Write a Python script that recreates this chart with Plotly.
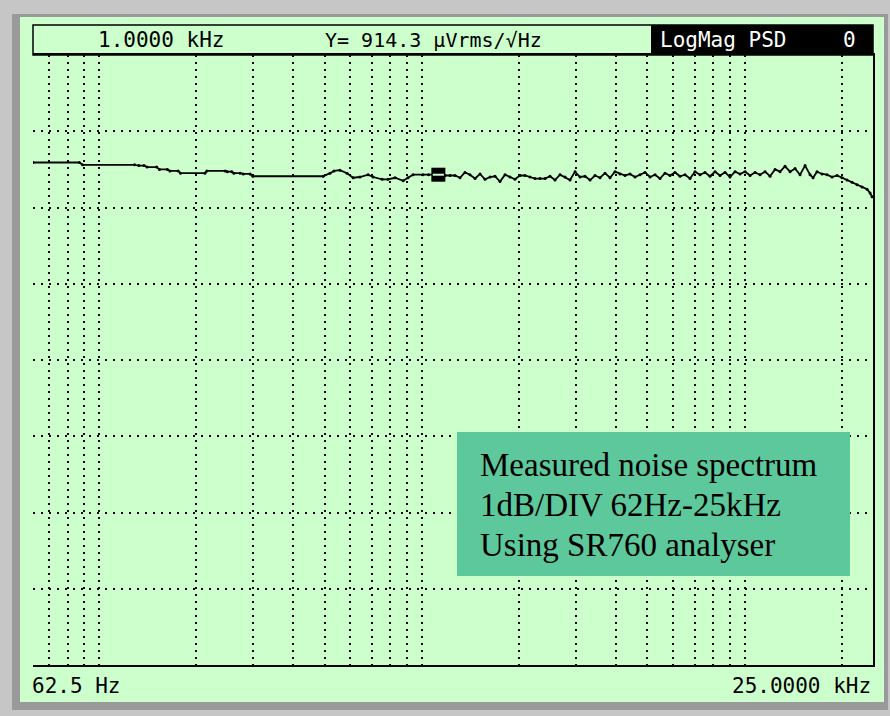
import math
import plotly.graph_objects as go

# ---------------- data ----------------
freq_hz = [
    62.5, 87, 89, 129, 133, 138, 141, 151, 154, 163, 166, 176, 179, 213, 216, 246,
    250, 258, 262, 274, 280, 294, 300, 495, 520, 535, 558, 587, 613, 644, 682, 707,
    754, 786, 827, 876, 907, 940, 1009, 1050, 1126, 1181, 1224,
    1268, 1314, 1362, 1411, 1463, 1516, 1571, 1628, 1687, 1748, 1812, 1877, 1945,
    2016, 2089, 2165, 2244, 2325, 2410, 2497, 2588, 2682, 2780, 2880, 2985, 3093,
    3205, 3322, 3442, 3567, 3697, 3831, 3970, 4114, 4264, 4418, 4579, 4745, 4917,
    5096, 5281, 5472, 5671, 5877, 6090, 6311, 6540, 6778, 7024, 7279, 7543, 7817,
    8101, 8395, 8700, 9016, 9346, 9685, 10037, 10402, 10779, 11170, 11576, 11996,
    12432, 12882, 13350, 13835, 14337, 14859, 15398, 15958, 16300, 16770, 17380,
    18010, 18670, 19350, 20050, 20780, 21530, 22310, 23120, 23960, 24480, 24830,
]
level_db = [
    -1.41, -1.41, -1.44, -1.44, -1.45, -1.45, -1.47, -1.47, -1.50, -1.50, -1.52, -1.52,
    -1.55, -1.55, -1.52, -1.52, -1.53, -1.53, -1.55, -1.55, -1.56, -1.56, -1.59, -1.59,
    -1.55, -1.52, -1.51, -1.55, -1.61, -1.60, -1.57, -1.60, -1.63, -1.63, -1.61, -1.65,
    -1.61, -1.57, -1.57, -1.57, -1.57, -1.58, -1.58,
    -1.58, -1.61, -1.54, -1.57, -1.62, -1.56, -1.63, -1.60, -1.59, -1.66, -1.57, -1.60,
    -1.63, -1.58, -1.58, -1.60, -1.62, -1.62, -1.62, -1.59, -1.64, -1.57, -1.60, -1.64,
    -1.53, -1.60, -1.59, -1.64, -1.58, -1.61, -1.55, -1.61, -1.53, -1.56, -1.58, -1.56,
    -1.60, -1.57, -1.54, -1.60, -1.57, -1.62, -1.55, -1.58, -1.54, -1.59, -1.57, -1.62,
    -1.53, -1.57, -1.54, -1.59, -1.53, -1.58, -1.54, -1.60, -1.53, -1.56, -1.53, -1.58,
    -1.54, -1.57, -1.53, -1.59, -1.50, -1.53, -1.46, -1.53, -1.49, -1.57, -1.45, -1.57,
    -1.61, -1.53, -1.56, -1.57, -1.60, -1.58, -1.61, -1.64, -1.67, -1.70, -1.73, -1.76,
    -1.81, -1.86,
]

marker_freq = [1126]
marker_level = [-1.57]
cursor_left_hz = 1000
cursor_right_hz = 1268

f_start_hz = 62.5
f_stop_hz = 25000
grid_freqs = [70, 80, 90, 100, 200, 300, 400, 500, 600, 700, 800, 900, 1000,
              2000, 3000, 4000, 5000, 6000, 7000, 8000, 9000, 10000, 20000]
grid_levels = [-7, -6, -5, -4, -3, -2, -1]
y_range = [-8, 0]

header_freq = "1.0000 kHz"
header_y = "Y= 914.3 µVrms/√Hz"
header_mode = "LogMag PSD"
header_trace = "0"
label_start = "62.5 Hz"
label_stop = "25.0000 kHz"
note_lines = ["Measured noise spectrum", "1dB/DIV 62Hz-25kHz", "Using SR760 analyser"]

# ---------------- layout helpers (pixel -> paper) ----------------
W, H = 890, 716
L, R, T, B = 33, 873, 55, 665


def px(x):
    return (x - L) / (R - L)


def py(y):
    return (B - y) / (B - T)


GREEN = "#ccffcc"
LCD_FONT = "DejaVu Sans Mono"

fig = go.Figure()
fig.add_trace(go.Scatter(x=freq_hz, y=level_db, mode="lines+markers",
                         line=dict(color="black", width=1.8),
                         marker=dict(size=3, color="black"), hoverinfo="skip"))
fig.add_trace(go.Scatter(x=marker_freq, y=marker_level, mode="markers",
                         marker=dict(symbol="square", size=14, color="black"), hoverinfo="skip"))
fig.add_trace(go.Scatter(x=marker_freq, y=marker_level, mode="markers",
                         marker=dict(symbol="line-ew", size=8, line=dict(color=GREEN, width=2)),
                         hoverinfo="skip"))

shapes = []
# soft shadow of the screen panel
shapes.append(dict(type="rect", xref="paper", yref="paper", x0=px(12), x1=px(888), y0=py(710), y1=py(14),
                   fillcolor="#9a9a9a", line=dict(width=0), layer="below"))
# green screen panel
shapes.append(dict(type="rect", xref="paper", yref="paper", x0=px(20), x1=px(884), y0=py(702), y1=py(17),
                   fillcolor=GREEN, line=dict(width=0), layer="below"))
# header frame
shapes.append(dict(type="rect", xref="paper", yref="paper", x0=px(33), x1=px(873), y0=py(55), y1=py(25),
                   fillcolor="rgba(0,0,0,0)", line=dict(color="black", width=1.5), layer="above"))
# black status box
shapes.append(dict(type="rect", xref="paper", yref="paper", x0=px(651), x1=px(873), y0=py(54), y1=py(25),
                   fillcolor="black", line=dict(width=0), layer="above"))
# cursor lines
shapes.append(dict(type="line", xref="x", yref="paper", x0=math.log10(cursor_left_hz),
                   x1=math.log10(cursor_left_hz), y0=0, y1=1,
                   line=dict(color="black", width=1.5, dash="10px,5px"), layer="above"))
shapes.append(dict(type="line", xref="x", yref="paper", x0=math.log10(cursor_right_hz),
                   x1=math.log10(cursor_right_hz), y0=0, y1=1,
                   line=dict(color="black", width=1.5, dash="24px,7px"), layer="above"))
# note box
shapes.append(dict(type="rect", xref="paper", yref="paper", x0=px(457), x1=px(850), y0=py(576), y1=py(432),
                   fillcolor="#5dc89b", line=dict(width=0), layer="above"))

annotations = []
hdr_y = py(40)
annotations.append(dict(text=header_freq, xref="paper", yref="paper", x=px(161), y=hdr_y,
                        xanchor="center", yanchor="middle", showarrow=False,
                        font=dict(family=LCD_FONT, size=21, color="black")))
annotations.append(dict(text=header_y, xref="paper", yref="paper", x=px(433), y=hdr_y,
                        xanchor="center", yanchor="middle", showarrow=False,
                        font=dict(family=LCD_FONT, size=20, color="black")))
annotations.append(dict(text=header_mode, xref="paper", yref="paper", x=px(723), y=hdr_y,
                        xanchor="center", yanchor="middle", showarrow=False,
                        font=dict(family=LCD_FONT, size=21, color="white")))
annotations.append(dict(text=header_trace, xref="paper", yref="paper", x=px(849), y=hdr_y,
                        xanchor="center", yanchor="middle", showarrow=False,
                        font=dict(family=LCD_FONT, size=21, color="white")))
annotations.append(dict(text=label_start, xref="paper", yref="paper", x=px(30), y=py(686),
                        xanchor="left", yanchor="middle", showarrow=False,
                        font=dict(family=LCD_FONT, size=21, color="black")))
annotations.append(dict(text=label_stop, xref="paper", yref="paper", x=px(873), y=py(686),
                        xanchor="right", yanchor="middle", showarrow=False,
                        font=dict(family=LCD_FONT, size=21, color="black")))
for i, line in enumerate(note_lines):
    annotations.append(dict(text=line, xref="paper", yref="paper", x=px(478), y=py(465 + 40 * i),
                            xanchor="left", yanchor="middle", showarrow=False,
                            font=dict(family="Liberation Serif", size=33, color="black")))

fig.update_layout(
    width=W, height=H,
    margin=dict(l=L, r=W - R, t=T, b=H - B, pad=0),
    paper_bgcolor="#c6c6c6",
    plot_bgcolor=GREEN,
    showlegend=False,
    shapes=shapes,
    annotations=annotations,
    xaxis=dict(type="log", range=[math.log10(f_start_hz), math.log10(f_stop_hz)],
               tickvals=grid_freqs, showticklabels=False, ticks="",
               showgrid=True, gridcolor="black", gridwidth=1.5, griddash="2px,5px",
               showline=True, linecolor="black", linewidth=1.5, mirror=True, zeroline=False),
    yaxis=dict(range=y_range, tickvals=grid_levels, showticklabels=False, ticks="",
               showgrid=True, gridcolor="black", gridwidth=1.5, griddash="2px,6px",
               showline=True, linecolor="black", linewidth=1.5, side="right", mirror=False,
               zeroline=False),
)

fig.write_html("out.html", config={"displayModeBar": False},
               post_script="document.body.style.margin='0';document.body.style.overflow='hidden';")
